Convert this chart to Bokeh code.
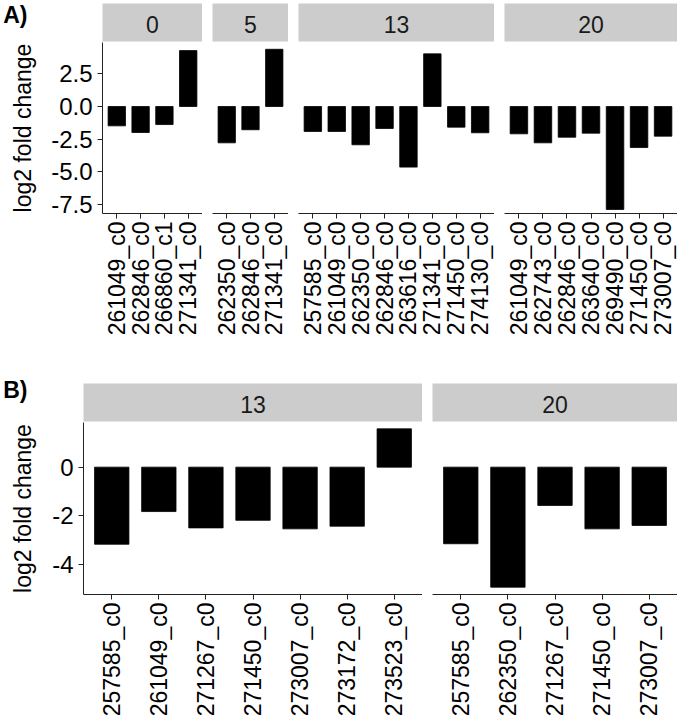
import math
from bokeh.plotting import figure
from bokeh.models import (FactorRange, Range1d, FixedTicker, NumeralTickFormatter,
                          ColumnDataSource)
from bokeh.layouts import row, column
from bokeh.embed import file_html
from bokeh.resources import INLINE
from bokeh.core.properties import value

# ---------------- data ----------------
# Panel A (facets by time point)
a_facets = ["0", "5", "13", "20"]
a_labels_0 = ["261049_c0", "262846_c0", "266860_c1", "271341_c0"]
a_values_0 = [-1.48, -1.99, -1.38, 4.28]
a_labels_5 = ["262350_c0", "262846_c0", "271341_c0"]
a_values_5 = [-2.78, -1.78, 4.38]
a_labels_13 = ["257585_c0", "261049_c0", "262350_c0", "262846_c0",
               "263616_c0", "271341_c0", "271450_c0", "274130_c0"]
a_values_13 = [-1.91, -1.91, -2.93, -1.68, -4.64, 4.03, -1.58, -2.01]
a_labels_20 = ["261049_c0", "262743_c0", "262846_c0", "263640_c0",
               "269490_c0", "271450_c0", "273007_c0"]
a_values_20 = [-2.09, -2.78, -2.35, -2.04, -7.88, -3.14, -2.27]
a_yticks = [2.5, 0.0, -2.5, -5.0, -7.5]

# Panel B
b_facets = ["13", "20"]
b_labels_13 = ["257585_c0", "261049_c0", "271267_c0", "271450_c0",
               "273007_c0", "273172_c0", "273523_c0"]
b_values_13 = [-3.16, -1.82, -2.49, -2.18, -2.53, -2.42, 1.57]
b_labels_20 = ["257585_c0", "262350_c0", "271267_c0", "271450_c0", "273007_c0"]
b_values_20 = [-3.14, -4.92, -1.57, -2.53, -2.39]
b_yticks = [0, -2, -4]

y_title = "log2 fold change"

# ---------------- style ----------------
FONT = "Liberation Sans"
AX_SIZE = "23px"
YTICK_SIZE = "24px"
STRIP_FILL = "#cccccc"
TOTAL_W = 677
GAP = 10
PAD = 0.1  # extra factor padding each side (0.6 of a bar slot)


def strip_fig(fw, left_border, strip_h, top_border, text, tag=None, tag_center_y=None):
    """Grey facet strip; frame aligned with the facet panel below it.
    The panel tag ("A)", "B)") is drawn as the single label of a bare left axis."""
    height = top_border + strip_h + 1
    s = figure(frame_width=fw, frame_height=height,
               x_range=Range1d(0, fw), y_range=Range1d(0, height),
               min_border_left=left_border, min_border_right=0,
               min_border_top=0, min_border_bottom=0,
               x_axis_location=None,
               y_axis_location="left" if tag is not None else None,
               output_backend="svg", toolbar_location=None, tools="")
    s.outline_line_color = None
    s.xgrid.visible = False
    s.ygrid.visible = False
    s.border_fill_color = "white"
    s.background_fill_color = "white"
    s.quad(left=[-5], right=[fw + 5], bottom=[1], top=[1 + strip_h],
           fill_color=STRIP_FILL, line_color=None)
    s.text(x=[fw / 2], y=[1 + strip_h / 2 - 2], text=[text],
           text_align="center", text_baseline="middle",
           text_font=value(FONT), text_font_size="23px", text_color="#1a1a1a")
    if tag is not None:
        tick = height - tag_center_y
        ya = s.yaxis[0]
        ya.ticker = FixedTicker(ticks=[tick])
        ya.major_label_overrides = {tick: tag}
        ya.axis_line_color = None
        ya.major_tick_line_color = None
        ya.minor_tick_line_color = None
        ya.major_tick_out = 0
        ya.major_tick_in = 0
        ya.major_label_text_font = FONT
        ya.major_label_text_font_size = "23px"
        ya.major_label_text_font_style = "bold"
        ya.major_label_text_color = "black"
        ya.major_label_standoff = left_border - 2 - 25
    return s


def facet_fig(labels, values, fw, ph, ytop, ybot, yticks, fmt,
              left_border, first, border_bottom, label_standoff):
    p = figure(x_range=FactorRange(factors=labels, range_padding=PAD,
                                   range_padding_units="absolute"),
               y_range=Range1d(ybot, ytop),
               frame_width=fw, frame_height=ph,
               min_border_left=left_border, min_border_right=0,
               min_border_top=0, min_border_bottom=border_bottom,
               y_axis_location="left" if first else None,
               output_backend="svg", toolbar_location=None, tools="")
    p.outline_line_color = None
    p.xgrid.visible = False
    p.ygrid.visible = False
    p.background_fill_color = "white"
    p.border_fill_color = "white"

    src = ColumnDataSource(dict(x=labels, top=values))
    p.vbar(x="x", top="top", bottom=0, width=0.73, source=src,
           fill_color="black", line_color="black", line_width=0.8)

    xa = p.xaxis[0]
    xa.major_label_orientation = math.pi / 2
    xa.major_label_text_font = FONT
    xa.major_label_text_font_size = AX_SIZE
    xa.major_label_text_color = "black"
    xa.major_label_standoff = 3
    xa.major_tick_out = 5
    xa.major_tick_in = 0
    xa.major_tick_line_color = "#222222"
    xa.axis_line_color = "#222222"
    xa.axis_line_width = 1
    xa.minor_tick_line_color = None

    if first:
        ya = p.yaxis[0]
        ya.ticker = FixedTicker(ticks=yticks)
        ya.formatter = NumeralTickFormatter(format=fmt)
        ya.major_label_text_font = FONT
        ya.major_label_text_font_size = YTICK_SIZE
        ya.major_label_text_color = "black"
        ya.major_label_standoff = 5
        ya.major_tick_out = 5
        ya.major_tick_in = 0
        ya.minor_tick_line_color = None
        ya.major_tick_line_color = "#222222"
        ya.axis_line_color = "#222222"
        ya.axis_line_width = 1
        ya.axis_label = y_title
        ya.axis_label_text_font = FONT
        ya.axis_label_text_font_size = "23px"
        ya.axis_label_text_font_style = "normal"
        ya.axis_label_text_color = "black"
        ya.axis_label_standoff = label_standoff
    return p


def build_row(label_sets, value_sets, facets, left_first, strip_h, top_border,
              ph, ytop, ybot, yticks, fmt, border_bottom, tag, tag_y, label_standoff):
    n_total = sum(len(l) + 2 * PAD for l in label_sets)
    avail = TOTAL_W - left_first - GAP * (len(label_sets) - 1)
    unit = avail / n_total
    widths = [round(unit * (len(l) + 2 * PAD)) for l in label_sets]
    widths[-1] = avail - sum(widths[:-1])
    cols = []
    for i, (labs, vals, fac) in enumerate(zip(label_sets, value_sets, facets)):
        lb = left_first if i == 0 else GAP
        st = strip_fig(widths[i], lb, strip_h, top_border, fac,
                       tag if i == 0 else None, tag_y)
        fg = facet_fig(labs, vals, widths[i], ph, ytop, ybot, yticks, fmt,
                       lb, i == 0, border_bottom, label_standoff)
        cols.append(column(st, fg, spacing=0))
    return row(*cols, spacing=0)


# row A: strip 3-41, panel 42-213 (page pixels); tag centred ~12px from the top
row_a = build_row([a_labels_0, a_labels_5, a_labels_13, a_labels_20],
                  [a_values_0, a_values_5, a_values_13, a_values_20],
                  a_facets, 102, 38, 3, 171, 4.90, -8.19, a_yticks, "0.0",
                  160, "A)", 12, 12)
# row B (starts at 373): strip 383-421, panel 422-594; tag centred ~16px below row top
row_b = build_row([b_labels_13, b_labels_20],
                  [b_values_13, b_values_20],
                  b_facets, 83, 38, 10, 172, 1.83, -5.22, b_yticks, "0",
                  126, "B)", 16, 13)

layout = column(row_a, row_b, spacing=0)

open("out.html", "w").write(file_html(layout, INLINE, title="log2 fold change"))
